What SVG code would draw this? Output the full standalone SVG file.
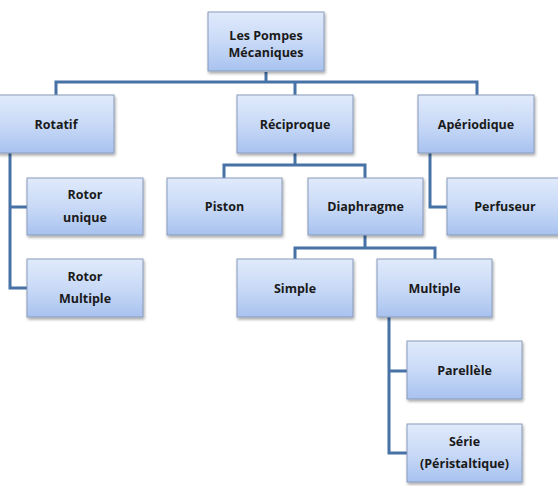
<svg xmlns="http://www.w3.org/2000/svg" width="558" height="486" viewBox="0 0 558 486">
<defs>
<linearGradient id="g" x1="0" y1="0" x2="0" y2="1">
<stop offset="0" stop-color="#e0eafb"/>
<stop offset="0.5" stop-color="#c9daf7"/>
<stop offset="1" stop-color="#a8c2ef"/>
</linearGradient>
<filter id="sh" x="-10%" y="-10%" width="130%" height="140%">
<feGaussianBlur in="SourceAlpha" stdDeviation="1.5"/>
<feOffset dx="1" dy="2" result="b"/>
<feComponentTransfer><feFuncA type="linear" slope="0.35"/></feComponentTransfer>
<feMerge><feMergeNode/><feMergeNode in="SourceGraphic"/></feMerge>
</filter>
</defs>
<style>
.box{fill:url(#g);stroke:#8a9bbb;stroke-width:1;filter:url(#sh)}
.t{font-family:"Open Sans","Liberation Sans",sans-serif;font-weight:bold;font-size:12.5px;fill:#1a1a1a;text-anchor:middle}
.c{fill:none;stroke:#4672a6;stroke-width:3;stroke-linejoin:miter}
</style>
<rect width="558" height="486" fill="#ffffff"/>
<g id="connectors">
<path class="c" d="M266,72 V82 M56,95 V82 H477 V95 M295,82 V95"/>
<path class="c" d="M10,153 V288 H27 M10,207 H27"/>
<path class="c" d="M295,153 V165 M224,178 V165 H365 V178"/>
<path class="c" d="M430,153 V207 H447"/>
<path class="c" d="M365,235 V248 M295,259 V248 H435 V259"/>
<path class="c" d="M389,317 V453 H407 M389,371 H407"/>
</g>
<g id="root"><rect class="box" x="208" y="12" width="116" height="59"/><text class="t" x="266" y="40">Les Pompes</text><text class="t" x="266" y="57">Mécaniques</text></g>
<g id="rotatif"><rect class="box" x="-2" y="95" width="116" height="58"/><text class="t" x="56" y="129">Rotatif</text></g>
<g id="reciproque"><rect class="box" x="237" y="95" width="116" height="58"/><text class="t" x="295" y="129">Réciproque</text></g>
<g id="aperiodique"><rect class="box" x="418" y="95" width="116" height="58"/><text class="t" x="476" y="129">Apériodique</text></g>
<g id="rotor-unique"><rect class="box" x="27" y="178" width="116" height="57"/><text class="t" x="85" y="199">Rotor</text><text class="t" x="85" y="222">unique</text></g>
<g id="rotor-multiple"><rect class="box" x="27" y="259" width="116" height="58"/><text class="t" x="85" y="281">Rotor</text><text class="t" x="85" y="303">Multiple</text></g>
<g id="piston"><rect class="box" x="167" y="178" width="115" height="57"/><text class="t" x="224.5" y="211">Piston</text></g>
<g id="diaphragme"><rect class="box" x="308" y="178" width="115" height="57"/><text class="t" x="365.5" y="211">Diaphragme</text></g>
<g id="perfuseur"><rect class="box" x="447" y="178" width="116" height="57"/><text class="t" x="505" y="211">Perfuseur</text></g>
<g id="simple"><rect class="box" x="237" y="259" width="116" height="58"/><text class="t" x="295" y="293">Simple</text></g>
<g id="multiple"><rect class="box" x="377" y="259" width="115" height="58"/><text class="t" x="434.5" y="293">Multiple</text></g>
<g id="parellele"><rect class="box" x="407" y="341" width="115" height="58"/><text class="t" x="464.5" y="375">Parellèle</text></g>
<g id="serie"><rect class="box" x="407" y="424" width="115" height="58"/><text class="t" x="464.5" y="446">Série</text><text class="t" x="464.5" y="468">(Péristaltique)</text></g>
</svg>
